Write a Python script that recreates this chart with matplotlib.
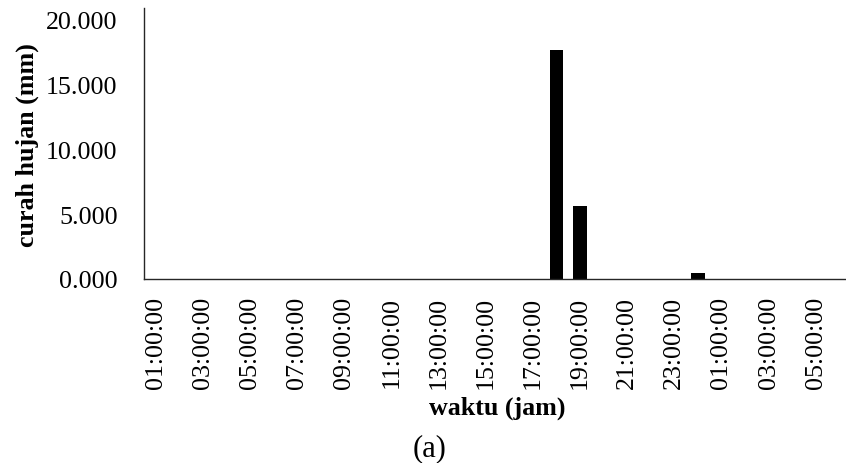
import numpy as np
import matplotlib.pyplot as plt

plt.rcParams['font.family'] = ['Liberation Serif', 'DejaVu Serif']

# jam pengamatan (01:00 sampai 06:00 hari berikutnya)
jam = ["01:00:00", "02:00:00", "03:00:00", "04:00:00", "05:00:00", "06:00:00",
       "07:00:00", "08:00:00", "09:00:00", "10:00:00", "11:00:00", "12:00:00",
       "13:00:00", "14:00:00", "15:00:00", "16:00:00", "17:00:00", "18:00:00",
       "19:00:00", "20:00:00", "21:00:00", "22:00:00", "23:00:00", "00:00:00",
       "01:00:00", "02:00:00", "03:00:00", "04:00:00", "05:00:00", "06:00:00"]

# curah hujan per jam (mm)
curah_hujan = [0, 0, 0, 0, 0, 0, 0, 0, 0, 0, 0, 0, 0, 0, 0, 0, 0, 17.65,
               5.6, 0, 0, 0, 0, 0.5, 0, 0, 0, 0, 0, 0]

y_ticks = [0, 5, 10, 15, 20]

fs = 18.7
fig = plt.figure(figsize=(8.46, 4.64), dpi=100)
ax = fig.add_axes([144/846, 1 - 280/464, (851-144)/846, (280-9)/464])

x = np.arange(len(jam))
ax.bar(x, curah_hujan, width=0.58, color='black')

ax.set_xlim(-0.5, len(jam) - 0.5)
ax.set_ylim(0, 20.85)
ax.set_yticks(y_ticks)
ax.set_yticklabels([f"{v:.3f}" for v in y_ticks], fontsize=fs)
ax.set_xticks(x[::2])
ax.set_xticklabels(jam[::2], rotation=90, fontsize=fs)
ax.tick_params(axis='both', length=0)
ax.tick_params(axis='x', pad=12)
ax.tick_params(axis='y', pad=19)

for s in ['top', 'right']:
    ax.spines[s].set_visible(False)
for s in ['left', 'bottom']:
    ax.spines[s].set_color('#262626')
    ax.spines[s].set_linewidth(1.0)

fig.text(27/846, 1 - 145/464, "curah hujan (mm)", rotation=90, fontsize=fs,
         fontweight='bold', ha='center', va='center')
fig.text(497/846, 1 - 408/464, "waktu (jam)", fontsize=fs, fontweight='bold',
         ha='center', va='center')
fig.text(430/846, 1 - 449/464, "(a)", fontsize=22, ha='center', va='center')

fig.savefig("out.png", dpi=100)
